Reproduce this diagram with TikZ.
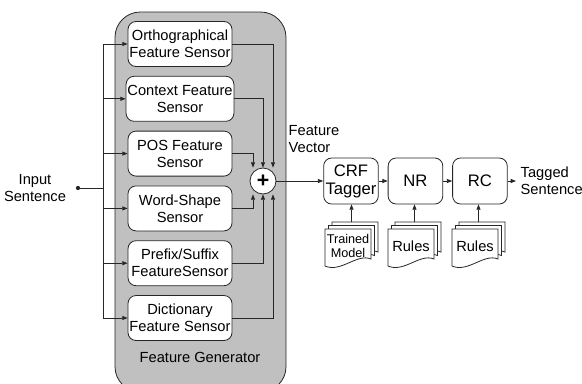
\documentclass[tikz,border=0pt]{standalone}
\usepackage{fontspec}
\setmainfont{Liberation Sans}
\usetikzlibrary{arrows.meta,positioning,calc}
\definecolor{genfill}{HTML}{C0C0C0}
\definecolor{linegray}{HTML}{262626}

\tikzset{docstack/.pic={
  \foreach \d in {7,3.5,0}
    \draw[page] (\d,-\d) -- (\d+46,-\d) -- (\d+46,30-\d)
      .. controls (\d+32,24-\d) and (\d+16,44-\d) .. (\d,37-\d) -- cycle;
  \coordinate (-top) at (26.5,-7);
}}

\begin{document}
\begin{tikzpicture}[x=0.75pt, y=-0.75pt,
  font=\fontsize{11}{12.8}\selectfont,
  genbox/.style={draw=linegray, fill=genfill, rounded corners=19pt, line width=0.6pt},
  sensor/.style={draw=linegray, fill=white, rounded corners=6pt, line width=0.6pt,
                 minimum width=78pt, minimum height=33.75pt, align=center, inner sep=1pt},
  procbox/.style={draw=linegray, fill=white, rounded corners=6pt, line width=0.6pt,
                  minimum width=41pt, minimum height=34.5pt, align=center, inner sep=1pt,
                  font=\fontsize{12.5}{13.5}\selectfont},
  sumnode/.style={circle, draw=linegray, fill=white, line width=0.6pt,
                  minimum size=19.5pt, inner sep=0pt},
  page/.style={draw=linegray, fill=white, line width=0.6pt},
  arr/.style={-{Triangle[length=4pt,width=3pt]}, line width=0.6pt, draw=linegray},
  wire/.style={line width=0.6pt, draw=linegray},
  node distance=6.75pt
]
\useasboundingbox (0,0) rectangle (582,383);
\path[genbox] (115,12) rectangle (286,392);

% sensors in the generator
\node[sensor] (ortho) at (180,44) {Orthographical\\Feature Sensor};
\node[sensor, below=of ortho] (context) {Context Feature\\Sensor};
\node[sensor, below=of context] (pos) {POS Feature\\Sensor};
\node[sensor, below=of pos] (shape) {Word-Shape\\Sensor};
\node[sensor, below=of shape] (affix) {Prefix/Suffix\\FeatureSensor};
\node[sensor, below=of affix] (dict) {Dictionary\\Feature Sensor};
\node (genlbl) at (200,357) {Feature Generator};

% input side
\node[align=center] (input) at (35,188) {Input\\Sentence};
\coordinate (dot) at (78,188);
\coordinate (split) at (103,188);
\fill[linegray] (dot) circle (1.6pt);
\draw[wire] (dot) -- (split);
\draw[arr] (split) |- (ortho.west);
\draw[arr] (split) |- (context.west);
\draw[arr] (split) |- (pos.west);
\draw[arr] (split) |- (shape.west);
\draw[arr] (split) |- (affix.west);
\draw[arr] (split) |- (dict.west);

% summation
\node[sumnode] (sum) at (263,181) {\fontsize{16}{16}\selectfont\bfseries +};
\draw[arr] (ortho.east) -| ($(sum.north)+(10,0)$);
\draw[arr] (context.east) -| (sum.north);
\draw[arr] (pos.east) -| ($(sum.north)+(-10,0)$);
\draw[arr] (shape.east) -| ($(sum.south)+(-10,0)$);
\draw[arr] (affix.east) -| (sum.south);
\draw[arr] (dict.east) -| ($(sum.south)+(10,0)$);

% tagging pipeline
\node[procbox] (crf) at (351,181) {CRF\\Tagger};
\node[procbox, right=of crf] (nr) {NR};
\node[procbox, right=of nr] (rc) {RC};
\node[align=left, anchor=south west] (fvec) at (284,157) {Feature\\Vector};
\node[align=left, anchor=west] (tagged) at (516,181) {Tagged\\Sentence};
\draw[arr] (sum) -- (crf);
\draw[arr] (crf) -- (nr);
\draw[arr] (nr) -- (rc);
\draw[arr] (rc) -- (tagged);

% resources
\pic (tm) at (325,229) {docstack};
\pic (nrdoc) at (388,229) {docstack};
\pic (rcdoc) at (452,229) {docstack};
\node[font=\fontsize{9.5}{10.5}\selectfont, align=center] (tmlbl) at (348,246) {Trained\\Model};
\node (nrlbl) at (411,246) {Rules};
\node (rclbl) at (475,246) {Rules};
\draw[arr] (tm-top) -- (tm-top |- crf.south);
\draw[arr] (nrdoc-top) -- (nrdoc-top |- nr.south);
\draw[arr] (rcdoc-top) -- (rcdoc-top |- rc.south);
\end{tikzpicture}
\end{document}
